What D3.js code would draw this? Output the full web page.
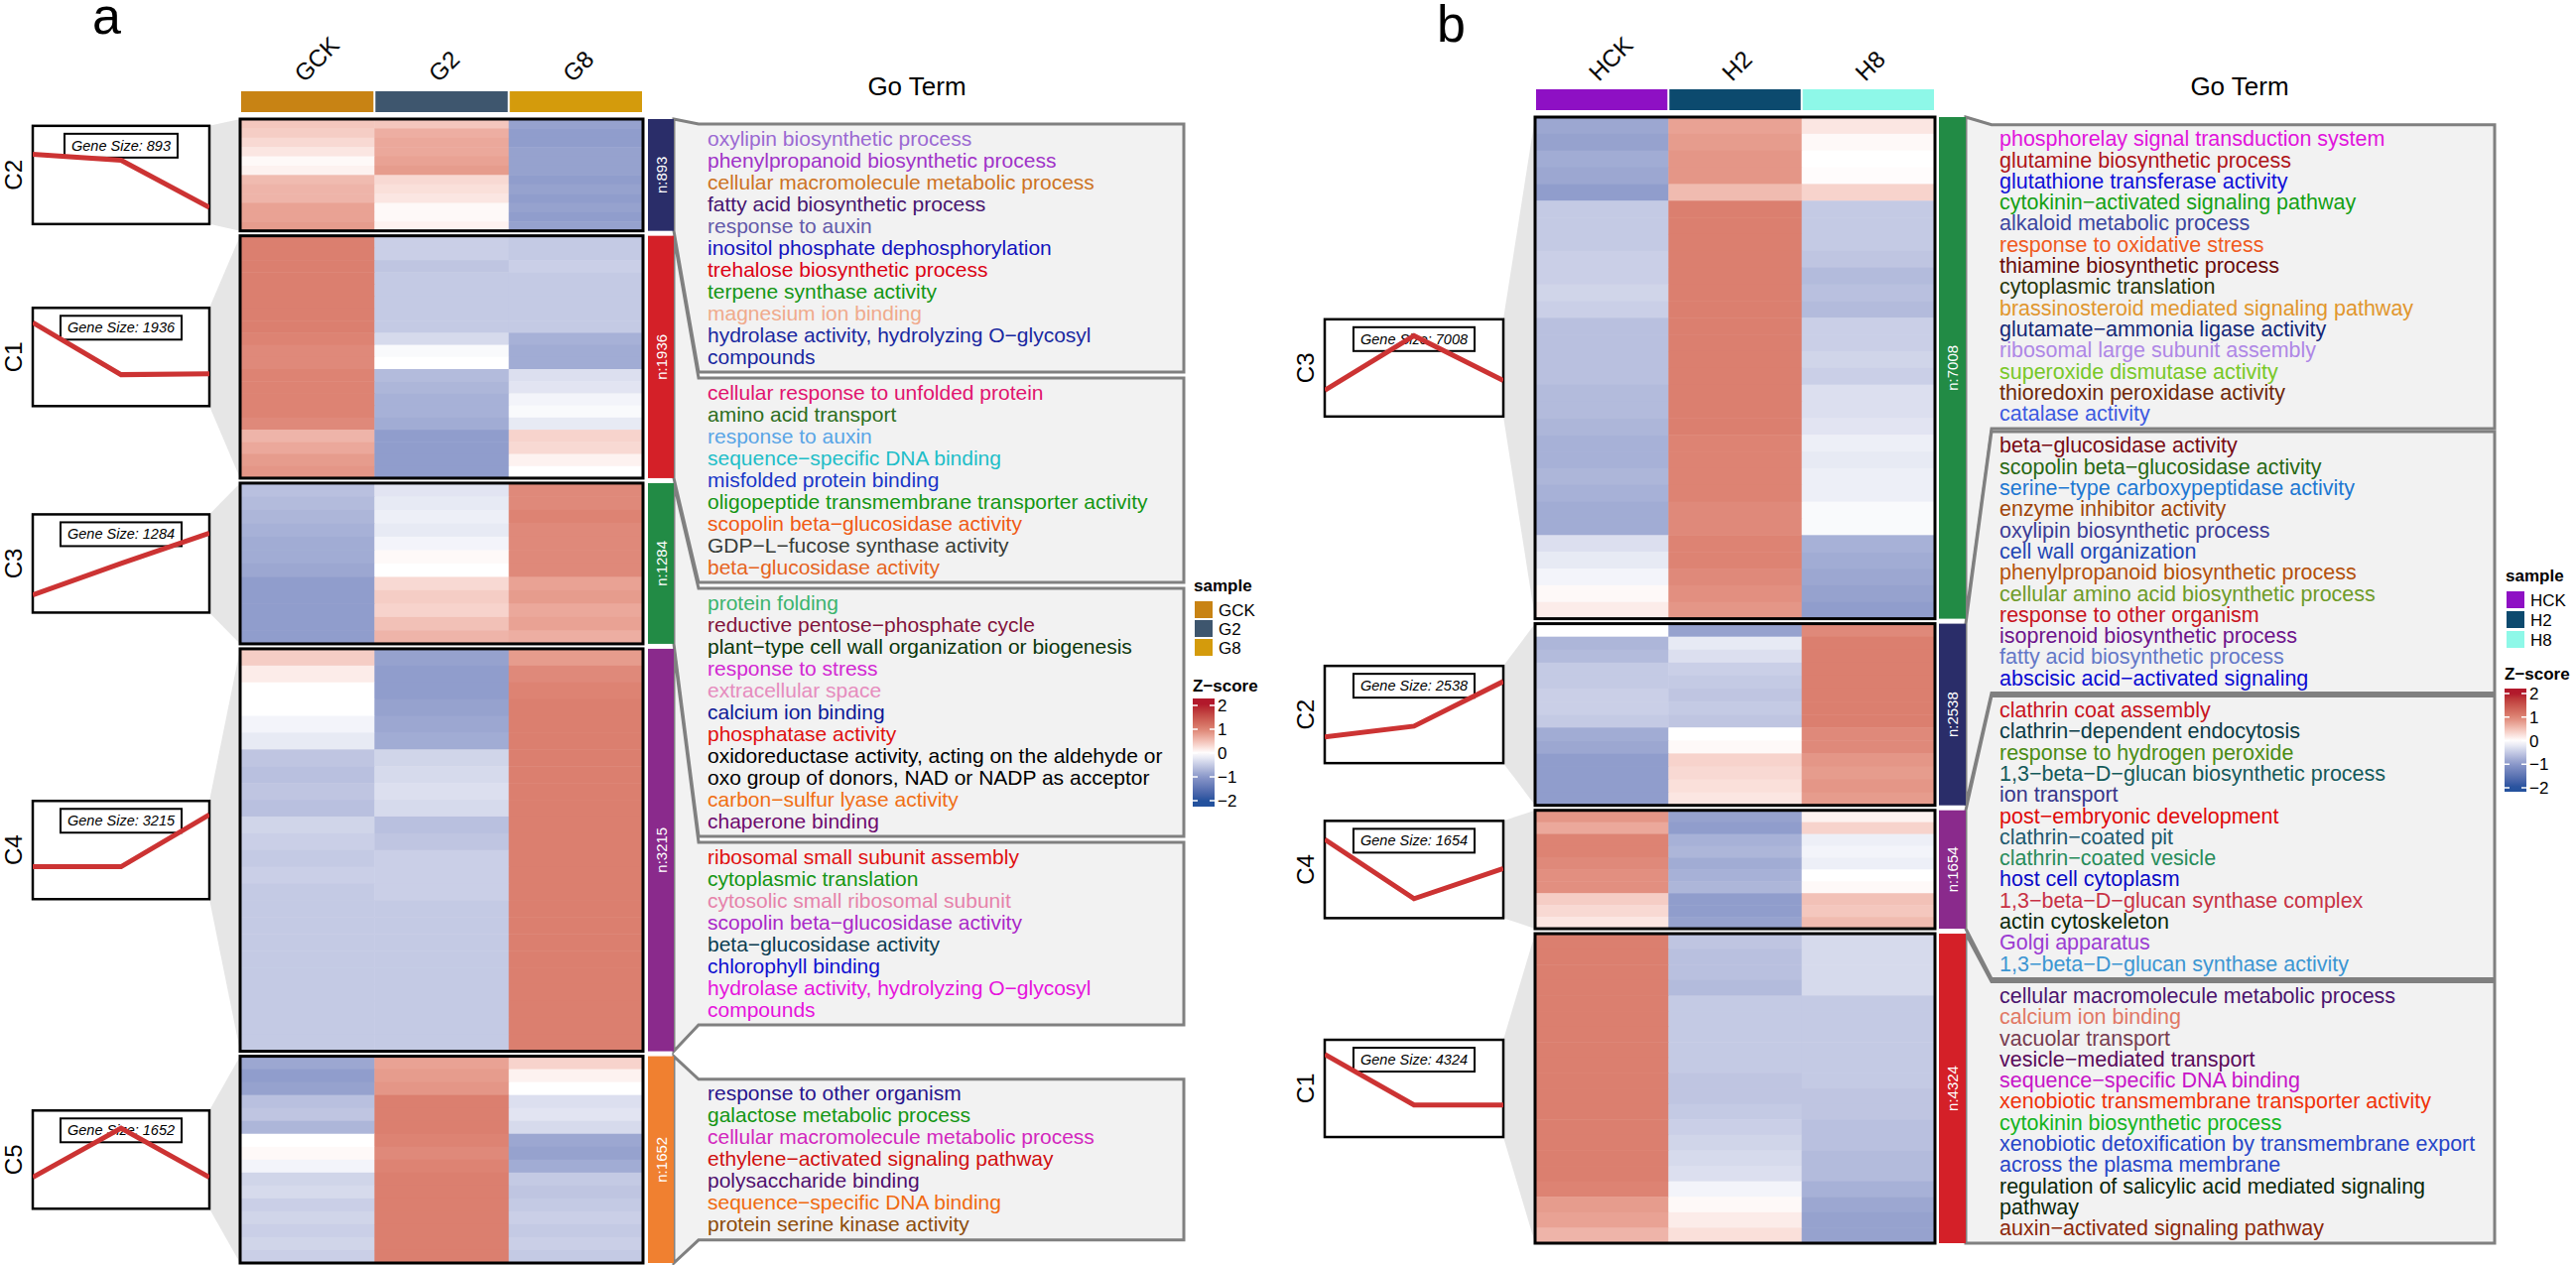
<!DOCTYPE html>
<html>
<head>
<meta charset="utf-8">
<script src="https://cdnjs.cloudflare.com/ajax/libs/d3/7.8.5/d3.min.js"></script>
<style>
  body { margin: 0; background: #fff; }
  text { font-family: "Liberation Sans", Arial, Helvetica, sans-serif; }
</style>
</head>
<body>
<div id="chart"></div>
<script>
// ---------- data ----------
const samplesA = ["GCK", "G2", "G8"];
const samplesB = ["HCK", "H2", "H8"];
const clustersA = ["C2", "C1", "C3", "C4", "C5"];
const geneCountsA = [893, 1936, 1284, 3215, 1652];
const clustersB = ["C3", "C2", "C4", "C1"];
const geneCountsB = [7008, 2538, 1654, 4324];

// mean z-score of each cluster per sample
const trendA = [
  [0.63, 0.45, -0.99],
  [1.05, -0.54, -0.51],
  [-0.96, 0.0, 0.93],
  [-0.51, -0.51, 1.08],
  [-0.54, 0.96, -0.54]
];
const trendB = [
  [-0.69, 0.99, -0.39],
  [-0.69, -0.36, 1.02],
  [0.93, -0.9, 0.03],
  [1.05, -0.51, -0.51]
];

// z-score rows (gene groups) of each cluster, in heatmap order
const zRowsA = [
  [[0.45, 0.45, -0.9], [0.4, 0.65, -0.95], [0.3, 0.7, -0.95], [0.2, 0.7, -0.9], [0.05, 0.75, -0.9], [0.1, 0.8, -0.9],
   [0.55, 0.3, -0.95], [0.6, 0.25, -0.9], [0.6, 0.2, -0.95], [0.75, 0.05, -0.9], [0.75, 0.05, -0.95], [0.8, 0.1, -0.9]],
  [[1.05, -0.45, -0.5], [1.05, -0.45, -0.5], [1.05, -0.55, -0.45], [1.05, -0.5, -0.5], [1.05, -0.5, -0.5],
   [1.05, -0.5, -0.5], [1.05, -0.5, -0.5], [1.05, -0.5, -0.5], [1.0, -0.35, -0.75], [0.95, -0.05, -0.8],
   [0.95, 0.0, -0.8], [1.0, -0.65, -0.3], [1.0, -0.7, -0.25], [1.0, -0.75, -0.1], [1.0, -0.75, -0.05],
   [0.95, -0.8, -0.2], [0.6, -0.95, 0.35], [0.7, -0.95, 0.3], [0.8, -0.95, 0.1], [0.85, -0.95, 0.0]],
  [[-0.6, -0.25, 0.95], [-0.65, -0.2, 0.95], [-0.7, -0.15, 1.0], [-0.75, -0.2, 0.95], [-0.8, -0.1, 0.95],
   [-0.8, 0.05, 0.95], [-0.85, 0.0, 0.95], [-0.95, 0.3, 0.75], [-0.95, 0.4, 0.8], [-0.95, 0.35, 0.7],
   [-0.95, 0.5, 0.75], [-0.95, 0.6, 0.65]],
  [[0.4, -0.9, 0.8], [0.15, -0.95, 0.95], [0.0, -0.95, 1.0], [0.0, -0.9, 1.05], [-0.1, -0.85, 1.05],
   [-0.2, -0.8, 1.05], [-0.55, -0.4, 1.05], [-0.6, -0.35, 1.05], [-0.55, -0.3, 1.05], [-0.6, -0.35, 1.05],
   [-0.4, -0.6, 1.05], [-0.45, -0.55, 1.05], [-0.5, -0.45, 1.05], [-0.45, -0.45, 1.05], [-0.5, -0.45, 1.05],
   [-0.5, -0.5, 1.05], [-0.5, -0.5, 1.05], [-0.5, -0.5, 1.05], [-0.5, -0.5, 1.05], [-0.5, -0.5, 1.05],
   [-0.5, -0.5, 1.05], [-0.5, -0.5, 1.05], [-0.5, -0.5, 1.05], [-0.5, -0.5, 1.05]],
  [[-0.85, 0.75, 0.35], [-0.95, 0.8, 0.1], [-0.9, 0.85, 0.0], [-0.6, 1.05, -0.3], [-0.55, 1.05, -0.25],
   [-0.7, 1.05, -0.35], [0.0, 1.0, -0.85], [0.05, 0.95, -0.9], [-0.1, 1.0, -0.8], [-0.4, 1.05, -0.5],
   [-0.35, 1.05, -0.55], [-0.45, 1.05, -0.5], [-0.4, 1.05, -0.45], [-0.45, 1.05, -0.5], [-0.4, 1.05, -0.45],
   [-0.45, 1.05, -0.5]]
];
const zRowsB = [
  [[-0.85, 0.75, 0.2], [-0.9, 0.8, 0.05], [-0.8, 0.85, 0.0], [-0.85, 0.85, 0.02], [-0.95, 0.55, 0.35],
   [-0.5, 1.05, -0.5], [-0.5, 1.05, -0.5], [-0.5, 1.05, -0.5], [-0.45, 1.05, -0.55], [-0.45, 1.05, -0.65],
   [-0.4, 1.05, -0.6], [-0.45, 1.05, -0.65], [-0.6, 1.05, -0.45], [-0.6, 1.05, -0.45], [-0.6, 1.05, -0.4],
   [-0.6, 1.05, -0.45], [-0.65, 1.05, -0.3], [-0.65, 1.05, -0.3], [-0.7, 1.05, -0.25], [-0.75, 1.0, -0.15],
   [-0.75, 1.0, -0.2], [-0.7, 1.0, -0.15], [-0.75, 1.0, -0.15], [-0.8, 0.95, -0.05], [-0.8, 0.95, -0.05],
   [-0.3, 1.0, -0.75], [-0.2, 1.0, -0.8], [-0.1, 0.95, -0.85], [0.05, 0.9, -0.9], [0.15, 0.85, -0.95]],
  [[0.0, -0.9, 0.95], [-0.7, -0.2, 1.05], [-0.65, -0.3, 1.05], [-0.5, -0.45, 1.05], [-0.5, -0.5, 1.05],
   [-0.45, -0.55, 1.05], [-0.45, -0.5, 1.05], [-0.5, -0.55, 1.05], [-0.8, 0.0, 0.95], [-0.85, 0.05, 0.95],
   [-0.95, 0.35, 0.85], [-0.95, 0.3, 0.8], [-0.95, 0.25, 0.85], [-0.95, 0.2, 0.8]],
  [[0.85, -0.9, 0.1], [0.7, -0.95, 0.35], [1.0, -0.75, -0.15], [1.0, -0.7, -0.1], [0.95, -0.8, -0.15],
   [0.9, -0.75, 0.0], [0.9, -0.7, 0.05], [0.4, -0.95, 0.5], [0.3, -0.95, 0.45], [0.2, -0.9, 0.55]],
  [[1.05, -0.55, -0.35], [1.05, -0.6, -0.35], [1.05, -0.6, -0.35], [1.05, -0.65, -0.35], [1.05, -0.5, -0.5],
   [1.05, -0.5, -0.5], [1.05, -0.5, -0.5], [1.05, -0.5, -0.5], [1.05, -0.5, -0.5], [1.05, -0.55, -0.5],
   [1.05, -0.55, -0.55], [1.05, -0.5, -0.55], [1.05, -0.45, -0.6], [1.05, -0.4, -0.6], [1.05, -0.35, -0.65],
   [1.05, -0.3, -0.65], [1.0, -0.1, -0.75], [0.8, 0.05, -0.85], [0.75, 0.15, -0.9], [0.6, 0.25, -0.9]]
];

const goTermsA = [
  ["oxylipin biosynthetic process", "phenylpropanoid biosynthetic process", "cellular macromolecule metabolic process",
   "fatty acid biosynthetic process", "response to auxin", "inositol phosphate dephosphorylation",
   "trehalose biosynthetic process", "terpene synthase activity", "magnesium ion binding",
   "hydrolase activity, hydrolyzing O−glycosyl compounds"],
  ["cellular response to unfolded protein", "amino acid transport", "response to auxin",
   "sequence−specific DNA binding", "misfolded protein binding", "oligopeptide transmembrane transporter activity",
   "scopolin beta−glucosidase activity", "GDP−L−fucose synthase activity", "beta−glucosidase activity"],
  ["protein folding", "reductive pentose−phosphate cycle", "plant−type cell wall organization or biogenesis",
   "response to stress", "extracellular space", "calcium ion binding", "phosphatase activity",
   "oxidoreductase activity, acting on the aldehyde or oxo group of donors, NAD or NADP as acceptor",
   "carbon−sulfur lyase activity", "chaperone binding"],
  ["ribosomal small subunit assembly", "cytoplasmic translation", "cytosolic small ribosomal subunit",
   "scopolin beta−glucosidase activity", "beta−glucosidase activity", "chlorophyll binding",
   "hydrolase activity, hydrolyzing O−glycosyl compounds"],
  ["response to other organism", "galactose metabolic process", "cellular macromolecule metabolic process",
   "ethylene−activated signaling pathway", "polysaccharide binding", "sequence−specific DNA binding",
   "protein serine kinase activity"]
];
const goTermsB = [
  ["phosphorelay signal transduction system", "glutamine biosynthetic process", "glutathione transferase activity",
   "cytokinin−activated signaling pathway", "alkaloid metabolic process", "response to oxidative stress",
   "thiamine biosynthetic process", "cytoplasmic translation", "brassinosteroid mediated signaling pathway",
   "glutamate−ammonia ligase activity", "ribosomal large subunit assembly", "superoxide dismutase activity",
   "thioredoxin peroxidase activity", "catalase activity"],
  ["beta−glucosidase activity", "scopolin beta−glucosidase activity", "serine−type carboxypeptidase activity",
   "enzyme inhibitor activity", "oxylipin biosynthetic process", "cell wall organization",
   "phenylpropanoid biosynthetic process", "cellular amino acid biosynthetic process", "response to other organism",
   "isoprenoid biosynthetic process", "fatty acid biosynthetic process", "abscisic acid−activated signaling"],
  ["clathrin coat assembly", "clathrin−dependent endocytosis", "response to hydrogen peroxide",
   "1,3−beta−D−glucan biosynthetic process", "ion transport", "post−embryonic development",
   "clathrin−coated pit", "clathrin−coated vesicle", "host cell cytoplasm", "1,3−beta−D−glucan synthase complex",
   "actin cytoskeleton", "Golgi apparatus", "1,3−beta−D−glucan synthase activity"],
  ["cellular macromolecule metabolic process", "calcium ion binding", "vacuolar transport",
   "vesicle−mediated transport", "sequence−specific DNA binding", "xenobiotic transmembrane transporter activity",
   "cytokinin biosynthetic process", "xenobiotic detoxification by transmembrane export across the plasma membrane",
   "regulation of salicylic acid mediated signaling pathway", "auxin−activated signaling pathway"]
];

const zTicks = [2, 1, 0, -1, -2];

// ---------- styles ----------
const sampleColorsA = ["#C88314", "#3E566E", "#D49B0C"];
const sampleColorsB = ["#8E10C4", "#0C4A6E", "#8EF8E8"];
const clusterColor = { C1: "#D42028", C2: "#2A2D69", C3: "#228B45", C4: "#8A2A8C", C5: "#F08030" };
const goColorsA = [
  ["#9B69D2", "#A032C8", "#CD7323", "#46146E", "#645AAA", "#1414BE", "#DC0014", "#149614", "#F0AA8C", "#1928A0"],
  ["#E1146E", "#2D6E1E", "#5AA5E6", "#1EBEC8", "#1937C8", "#149614", "#F05A14", "#373C37", "#E6641E"],
  ["#3CB46E", "#82143C", "#0A370A", "#D228D2", "#E68CBE", "#0F1996", "#E01010", "#000000", "#F06E14", "#6E0A6E"],
  ["#E01010", "#149614", "#E682AA", "#AA28C8", "#0A3C50", "#1010D0", "#E614DC"],
  ["#28148C", "#149614", "#D228BE", "#D01010", "#500F6E", "#F06A10", "#8C4B0A"]
];
const goColorsB = [
  ["#E114DC", "#AF1419", "#1010D8", "#14A014", "#3C46A0", "#F05A1E", "#690A0A", "#28370A", "#E1962D",
   "#142878", "#AF87E6", "#78C828", "#6E280A", "#3C5AE1"],
  ["#780A14", "#286914", "#1E78D2", "#A0460A", "#3C3C96", "#1E46B4", "#B4500A", "#6E9B28", "#C8141E",
   "#6E148C", "#6478C8", "#0A0AD2"],
  ["#C8141E", "#0A3C46", "#4B8C14", "#145A5A", "#37378C", "#E00A0A", "#1E5A6E", "#288C5A", "#0A0AC8",
   "#C83246", "#0A280A", "#9B3CD2", "#3C96D2"],
  ["#4B146E", "#E17864", "#783C50", "#5A0A5A", "#C814C8", "#F0320A", "#14B41E", "#2846C8", "#0A280A", "#8C280A"]
];

const layoutA = {
  label: "a", labelX: 93, labelY: 34,
  clabelX: 13, lineX0: 33, lineX1: 211, lineBoxH: 99,
  heatX0: 242, heatX1: 648, heatTop: 120, heatBottom: 1273, blockGap: 5,
  annoY0: 92, annoY1: 113, colLabelY: 84,
  sideX0: 653, sideX1: 679,
  boxX0: 704, boxX1: 1193, textX: 713, termFont: 21, termLineH: 22, boxPad: 8, boxGap: 6, boxTop: 125, boxBottom: 1273,
  titleX: 924, titleY: 96,
  legX: 1203, legY: 590, legStep: 19, zTitleY: 697, zBarTop: 704, zBarBottom: 813, zTop: 711, zBottom: 807
};
const layoutB = {
  label: "b", labelX: 1448, labelY: 42,
  clabelX: 1315, lineX0: 1335, lineX1: 1515, lineBoxH: 98,
  heatX0: 1547, heatX1: 1950, heatTop: 118, heatBottom: 1253, blockGap: 5,
  annoY0: 90, annoY1: 111, colLabelY: 83,
  sideX0: 1954, sideX1: 1981,
  boxX0: 2007, boxX1: 2514, textX: 2015, termFont: 21.5, termLineH: 21.3, boxPad: 8, boxGap: 3, boxTop: 123, boxBottom: 1253,
  titleX: 2257, titleY: 96,
  legX: 2525, legY: 580, legStep: 20, zTitleY: 685, zBarTop: 694, zBarBottom: 798, zTop: 699, zBottom: 794
};

// ---------- drawing ----------
const width = 2596, height = 1275;
const svg = d3.select("#chart").append("svg")
  .attr("width", width)
  .attr("height", height);

const zColor = d3.scaleLinear()
  .domain([-2, -1, 0, 1, 2])
  .range(["#23519D", "#8A98C9", "#FFFFFF", "#DD8373", "#B2182B"])
  .interpolate(d3.interpolateLab)
  .clamp(true);

// wrap at 50 characters, like str_wrap
function wrapTerm(s, maxChars) {
  const lines = [];
  let cur = "";
  s.split(" ").forEach(w => {
    const t = cur ? cur + " " + w : w;
    if (cur && t.length > maxChars) { lines.push(cur); cur = w; } else cur = t;
  });
  if (cur) lines.push(cur);
  return lines;
}

let clipId = 0;

function drawPanel(cfg) {
  const L = cfg.L;
  const g = svg.append("g");
  const samples = cfg.samples;

  // blocks sized by gene count
  const total = d3.sum(cfg.counts);
  const avail = L.heatBottom - L.heatTop - L.blockGap * (cfg.clusters.length - 1);
  let yy = L.heatTop;
  const blocks = cfg.clusters.map((c, i) => {
    const h = cfg.counts[i] / total * avail;
    const b = { c, i, y0: yy, y1: yy + h };
    yy += h + L.blockGap;
    return b;
  });

  g.append("text").attr("x", L.labelX).attr("y", L.labelY)
    .attr("font-size", 52).text(L.label);

  const x = d3.scaleBand().domain(samples).range([L.heatX0, L.heatX1]);

  // column labels
  g.selectAll(".col").data(samples).join("text")
    .attr("transform", d => `translate(${x(d) + x.bandwidth() / 2 - 3},${L.colLabelY}) rotate(-45)`)
    .attr("font-size", 24).text(d => d);

  // sample annotation
  g.selectAll(".anno").data(samples).join("rect")
    .attr("x", d => x(d) + 1).attr("width", x.bandwidth() - 2)
    .attr("y", L.annoY0).attr("height", L.annoY1 - L.annoY0)
    .attr("fill", (d, i) => cfg.sampleColors[i]);

  // mini trend plots + funnels
  const xl = d3.scalePoint().domain(samples).range([L.lineX0, L.lineX1]);
  blocks.forEach(b => {
    const cy = (b.y0 + b.y1) / 2;
    const by0 = cy - L.lineBoxH / 2, by1 = cy + L.lineBoxH / 2;
    const yl = d3.scaleLinear().domain([-1.5, 1.5]).range([by1, by0]);

    g.append("path")
      .attr("d", `M${L.lineX1},${by0}L${L.heatX0},${b.y0}L${L.heatX0},${b.y1}L${L.lineX1},${by1}Z`)
      .attr("fill", "#E6E6E6");

    g.append("rect").attr("x", L.lineX0).attr("y", by0)
      .attr("width", L.lineX1 - L.lineX0).attr("height", L.lineBoxH)
      .attr("fill", "#fff").attr("stroke", "#000").attr("stroke-width", 2.5);

    const label = "Gene Size: " + cfg.counts[b.i];
    const lt = g.append("text")
      .attr("x", (L.lineX0 + L.lineX1) / 2).attr("y", by0 + 25)
      .attr("text-anchor", "middle").attr("font-size", 14.5).attr("font-style", "italic")
      .text(label);
    const tw = lt.node().getComputedTextLength();
    g.insert("rect", () => lt.node())
      .attr("x", (L.lineX0 + L.lineX1) / 2 - tw / 2 - 7).attr("y", by0 + 8)
      .attr("width", tw + 14).attr("height", 24)
      .attr("fill", "#fff").attr("stroke", "#000").attr("stroke-width", 2);

    const id = "clip" + (clipId++);
    g.append("clipPath").attr("id", id).append("rect")
      .attr("x", L.lineX0).attr("y", by0).attr("width", L.lineX1 - L.lineX0).attr("height", L.lineBoxH);
    g.append("path")
      .datum(cfg.trends[b.i])
      .attr("clip-path", `url(#${id})`)
      .attr("d", d3.line().x((d, k) => xl(samples[k])).y(d => yl(d)))
      .attr("fill", "none").attr("stroke", "#CC3333").attr("stroke-width", 5);

    g.append("text")
      .attr("transform", `translate(${L.clabelX},${cy}) rotate(-90)`)
      .attr("text-anchor", "middle").attr("dominant-baseline", "central")
      .attr("font-size", 24).text(b.c);
  });

  // heatmap blocks
  blocks.forEach(b => {
    const rows = cfg.rows[b.i];
    const yb = d3.scaleBand().domain(d3.range(rows.length)).range([b.y0, b.y1]);
    g.append("g").selectAll("g").data(rows).join("g")
      .attr("transform", (d, k) => `translate(0,${yb(k)})`)
      .selectAll("rect").data(d => d).join("rect")
      .attr("x", (d, k) => x(samples[k]))
      .attr("width", x.bandwidth() + 0.5)
      .attr("height", yb.bandwidth() + 0.5)
      .attr("fill", d => zColor(d));
    g.append("rect").attr("x", L.heatX0).attr("y", b.y0)
      .attr("width", L.heatX1 - L.heatX0).attr("height", b.y1 - b.y0)
      .attr("fill", "none").attr("stroke", "#000").attr("stroke-width", 3);
  });

  // GO term boxes, stacked without overlap
  const items = blocks.map(b => {
    const lines = cfg.terms[b.i].flatMap((t, ti) =>
      wrapTerm(t, 50).map(l => ({ text: l, color: cfg.termColors[b.i][ti] })));
    const h = lines.length * L.termLineH + L.boxPad;
    return { b, lines, h, top: (b.y0 + b.y1) / 2 - h / 2 };
  });
  let prev = -Infinity;
  items.forEach(it => { it.top = Math.max(it.top, L.boxTop, prev + L.boxGap); prev = it.top + it.h; });
  let next = Infinity;
  for (let k = items.length - 1; k >= 0; k--) {
    const it = items[k];
    const bot = Math.min(it.top + it.h, L.boxBottom, next - L.boxGap);
    it.top = bot - it.h; next = it.top;
  }
  prev = -Infinity;
  items.forEach(it => { it.top = Math.max(it.top, L.boxTop, prev + L.boxGap); prev = it.top + it.h; });

  items.forEach(it => {
    const b = it.b, t0 = it.top, t1 = it.top + it.h;
    g.append("path")
      .attr("d", `M${L.sideX1},${b.y0}L${L.boxX0},${t0}L${L.boxX1},${t0}L${L.boxX1},${t1}L${L.boxX0},${t1}L${L.sideX1},${b.y1}Z`)
      .attr("fill", "#F2F2F2").attr("stroke", "#808080").attr("stroke-width", 3);
    g.selectAll(null).data(it.lines).join("text")
      .attr("x", L.textX)
      .attr("y", (d, k) => t0 + L.boxPad / 2 + k * L.termLineH + 17.5)
      .attr("font-size", L.termFont).attr("fill", d => d.color)
      .text(d => d.text);
  });

  // cluster side bar
  blocks.forEach(b => {
    g.append("rect").attr("x", L.sideX0).attr("y", b.y0)
      .attr("width", L.sideX1 - L.sideX0).attr("height", b.y1 - b.y0)
      .attr("fill", clusterColor[b.c]);
    g.append("text")
      .attr("transform", `translate(${(L.sideX0 + L.sideX1) / 2},${(b.y0 + b.y1) / 2}) rotate(-90)`)
      .attr("text-anchor", "middle").attr("dominant-baseline", "central")
      .attr("font-size", 15).attr("fill", "#fff").text("n:" + cfg.counts[b.i]);
  });

  g.append("text").attr("x", L.titleX).attr("y", L.titleY)
    .attr("text-anchor", "middle").attr("font-size", 26).text("Go Term");

  // legends
  g.append("text").attr("x", L.legX).attr("y", L.legY + 6)
    .attr("font-size", 17).attr("font-weight", "bold").text("sample");
  samples.forEach((s, i) => {
    g.append("rect").attr("x", L.legX + 1).attr("y", L.legY + 16 + i * L.legStep)
      .attr("width", 18).attr("height", 17).attr("fill", cfg.sampleColors[i]);
    g.append("text").attr("x", L.legX + 25).attr("y", L.legY + 16 + i * L.legStep + 15)
      .attr("font-size", 17).text(s);
  });

  g.append("text").attr("x", L.legX - 1).attr("y", L.zTitleY)
    .attr("font-size", 17).attr("font-weight", "bold").text("Z−score");
  const yz = d3.scaleLinear().domain([2, -2]).range([L.zTop, L.zBottom]);
  const gid = "grad" + L.label;
  const grad = g.append("defs").append("linearGradient").attr("id", gid)
    .attr("x1", 0).attr("x2", 0).attr("y1", 0).attr("y2", 1);
  d3.range(0, 1.0001, 0.05).forEach(f => {
    const v = yz.invert(L.zBarTop + f * (L.zBarBottom - L.zBarTop));
    grad.append("stop").attr("offset", f).attr("stop-color", zColor(v));
  });
  const bx0 = L.legX - 1, bx1 = L.legX + 21;
  g.append("rect").attr("x", bx0).attr("y", L.zBarTop)
    .attr("width", bx1 - bx0).attr("height", L.zBarBottom - L.zBarTop)
    .attr("fill", `url(#${gid})`);
  zTicks.forEach(t => {
    const ty = yz(t);
    g.append("line").attr("x1", bx0).attr("x2", bx0 + 5).attr("y1", ty).attr("y2", ty)
      .attr("stroke", "#fff").attr("stroke-width", 1.5);
    g.append("line").attr("x1", bx1 - 5).attr("x2", bx1).attr("y1", ty).attr("y2", ty)
      .attr("stroke", "#fff").attr("stroke-width", 1.5);
    g.append("text").attr("x", bx1 + 3).attr("y", ty + 6)
      .attr("font-size", 17).text(t < 0 ? "−" + Math.abs(t) : String(t));
  });
}

drawPanel({
  L: layoutA, samples: samplesA, clusters: clustersA, counts: geneCountsA,
  trends: trendA, rows: zRowsA, terms: goTermsA, termColors: goColorsA, sampleColors: sampleColorsA
});
drawPanel({
  L: layoutB, samples: samplesB, clusters: clustersB, counts: geneCountsB,
  trends: trendB, rows: zRowsB, terms: goTermsB, termColors: goColorsB, sampleColors: sampleColorsB
});
</script>
</body>
</html>
